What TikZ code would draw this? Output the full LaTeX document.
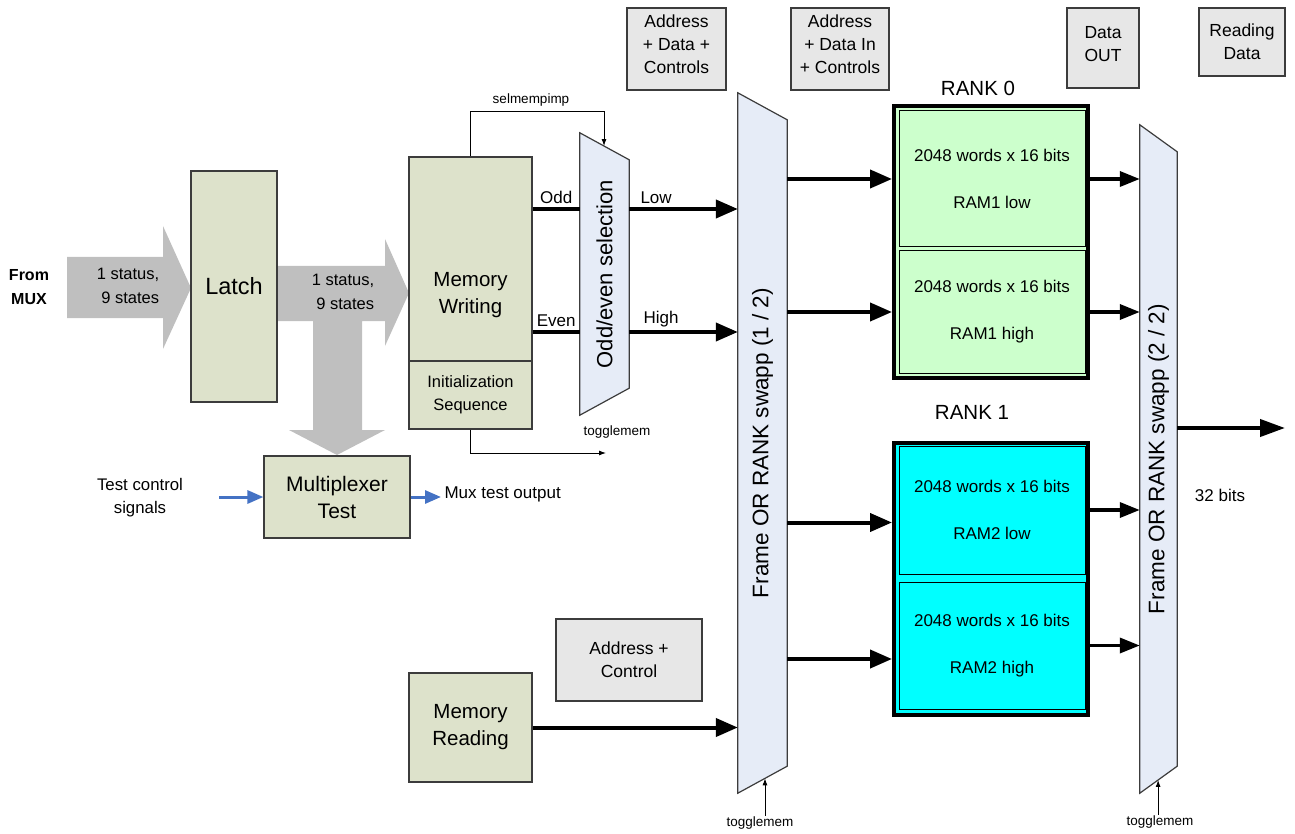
\documentclass[tikz,border=0pt]{standalone}
\usepackage{fontspec}
\setmainfont{Liberation Sans}
\usetikzlibrary{arrows.meta,calc}

\definecolor{blkfill}{RGB}{221,226,203}
\definecolor{trapfill}{RGB}{230,236,247}
\definecolor{sigfill}{RGB}{231,231,231}
\definecolor{bigarrow}{RGB}{191,191,191}
\definecolor{ramgreen}{RGB}{204,255,204}
\definecolor{ramcyan}{RGB}{0,255,255}
\definecolor{ctlblue}{RGB}{68,114,196}
\definecolor{edge}{RGB}{60,60,60}

\begin{document}
\begin{tikzpicture}[x=1pt, y=-1pt,
  blk/.style={draw=edge, line width=1.2pt, fill=blkfill, align=center},
  sig/.style={draw=edge, line width=1.2pt, fill=sigfill, align=center, font=\fontsize{17.5}{23}\selectfont},
  trap/.style={draw=edge, line width=1.2pt, fill=trapfill},
  ram/.style={draw=black, line width=1pt, align=center, font=\fontsize{17}{20}\selectfont},
  rank/.style={draw=black, line width=4pt},
  tiny/.style={font=\fontsize{13.5}{16}\selectfont, inner sep=1pt},
  txt/.style={font=\fontsize{17}{23}\selectfont, align=center},
  sigline/.style={line width=0.9pt, -{Latex[length=7pt,width=5pt]}},
  wire/.style={line width=4pt},
  bus/.style={line width=4pt, -{Triangle[length=22pt,width=18pt]}},
  rdout/.style={line width=3.5pt, -{Triangle[length=20pt,width=15pt]}},
  ctl/.style={line width=3pt, ctlblue, -{Triangle[length=16pt,width=13pt]}}
]
\useasboundingbox (0,0) rectangle (1295,834);

% big grey arrows
\fill[bigarrow] (67,257) -- (163,257) -- (163,226) -- (191,288) -- (163,349) -- (163,318) -- (67,318) -- cycle;
\fill[bigarrow] (277,266) -- (385,266) -- (385,239) -- (409,293) -- (385,346) -- (385,321) -- (362,321)
  -- (362,430) -- (385,430) -- (337,455) -- (289,430) -- (313,430) -- (313,321) -- (277,321) -- cycle;

% input side
\node[font=\bfseries\fontsize{16}{24}\selectfont, align=center] (frommux) at (29,287) {From\\MUX};
\node[txt, font=\fontsize{16.5}{24}\selectfont] (st1) at (128,286) {1 status,\\\ 9 states};
\node[blk, minimum width=86pt, minimum height=231pt, font=\fontsize{23.5}{28}\selectfont] (latch) at (234,286.5) {Latch};
\node[txt, font=\fontsize{16.5}{24}\selectfont] (st2) at (343,292) {1 status,\\\ 9 states};

\node[blk, minimum width=123pt, minimum height=204pt] (mw) at (470.5,259) {};
\node[font=\fontsize{20.5}{26.5}\selectfont, align=center] (mwtxt) at (470.5,295) {Memory\\Writing};
\node[blk, minimum width=123pt, minimum height=68pt, font=\fontsize{16.5}{23}\selectfont] (init) at (470.5,395) {Initialization\\Sequence};

\node[blk, minimum width=146pt, minimum height=82pt, font=\fontsize{21}{27}\selectfont] (mux) at (337,497) {Multiplexer\\Test};
\node[txt, font=\fontsize{16.8}{23}\selectfont] (tcs) at (140,498) {Test control\\signals};
\coordinate (tcsin) at (219,497);
\draw[ctl] (tcsin) -- (mux.west);
\node[anchor=west, font=\fontsize{17}{22}\selectfont] (mto) at (441,494) {Mux test output};
\draw[ctl] (mux.east) -- (mux.east -| mto.west);

\node[blk, minimum width=123pt, minimum height=109pt, font=\fontsize{20.5}{27}\selectfont] (mr) at (470.5,727.5) {Memory\\Reading};
\node[sig, minimum width=146pt, minimum height=82pt] (ac) at (629,660) {Address +\\Control};

% top labels
\node[sig, minimum width=99pt, minimum height=82pt] (adc) at (676.5,49) {};
\node[sig, minimum width=98pt, minimum height=82pt] (adi) at (840,49) {};
\node[sig, minimum width=72pt, minimum height=80pt] (dout) at (1103,48) {};
\node[sig, minimum width=86pt, minimum height=68pt] (rdat) at (1242,42) {Reading\\Data};
\node[txt, font=\fontsize{17.5}{23}\selectfont] (adctxt) at ($(adc)+(0,-5)$) {Address\\+ Data +\\Controls};
\node[txt, font=\fontsize{17.5}{23}\selectfont] (aditxt) at ($(adi)+(0,-5)$) {Address\\+ Data In\\+ Controls};
\node[txt, font=\fontsize{17.5}{23}\selectfont] (douttxt) at ($(dout)+(0,-4)$) {Data\\OUT};

% selectors
\node[minimum width=49pt, minimum height=282pt, inner sep=0] (oe) at (604.5,274) {};
\node[minimum width=49pt, minimum height=700pt, inner sep=0] (sw1) at (762.5,443) {};
\node[minimum width=37pt, minimum height=668pt, inner sep=0] (sw2) at (1158.5,459) {};
\foreach \n in {oe,sw1,sw2}{
  \coordinate (\n-ne) at ([yshift=-27pt]\n.north east);
  \coordinate (\n-se) at ([yshift=27pt]\n.south east);
  \filldraw[trap] (\n.north west) -- (\n-ne) -- (\n-se) -- (\n.south west) -- cycle;
}
\node[rotate=90, font=\fontsize{22}{26}\selectfont] (oetxt) at (oe) {Odd/even selection};
\node[rotate=90, font=\fontsize{22.5}{26}\selectfont] (sw1txt) at (sw1) {Frame OR RANK swapp (1 / 2)};
\node[rotate=90, font=\fontsize{22.5}{26}\selectfont] (sw2txt) at (sw2) {Frame OR RANK swapp (2 / 2)};

% memories
\node[rank, fill=ramgreen, minimum width=194pt, minimum height=272pt] (rank0) at (991,242) {};
\node[ram, fill=ramgreen, minimum width=186pt, minimum height=136pt] (ram1lo) at (992,179) {2048 words x 16 bits\\[27pt]RAM1 low};
\node[ram, fill=ramgreen, minimum width=186pt, minimum height=122pt] (ram1hi) at (992,312) {2048 words x 16 bits\\[27pt]RAM1 high};
\node[rank, fill=ramcyan, minimum width=194pt, minimum height=272pt] (rank1) at (991,579) {};
\node[ram, fill=ramcyan, minimum width=186pt, minimum height=128pt] (ram2lo) at (992,510) {2048 words x 16 bits\\[27pt]RAM2 low};
\node[ram, fill=ramcyan, minimum width=186pt, minimum height=127pt] (ram2hi) at (992,645.5) {2048 words x 16 bits\\[27pt]RAM2 high};
\node[font=\fontsize{20.5}{24}\selectfont] (r0lbl) at (978,88) {RANK 0};
\node[font=\fontsize{20.5}{24}\selectfont] (r1lbl) at (972,412) {RANK 1};

% data paths
\coordinate (odd) at ($(mw.east)+(0,-50)$);
\coordinate (even) at ($(mw.east)+(0,73)$);
\draw[wire] (odd) -- (odd -| oe.west) node[midway, above, txt] {Odd};
\draw[wire] (even) -- (even -| oe.west) node[midway, above, txt] {Even};
\draw[bus] (odd -| oe.east) -- (odd -| sw1.west) node[pos=0, above right, xshift=6pt, txt] {Low};
\draw[bus] (even -| oe.east) -- (even -| sw1.west) node[pos=0, above right, xshift=9pt, txt] {High};
\draw[bus] (mr.east) -- (mr.east -| sw1.west);

\coordinate (in2lo) at ($(ram2lo.west)+(0,12.5)$);
\coordinate (in2hi) at ($(ram2hi.west)+(0,13.5)$);
\draw[bus] (sw1.east |- ram1lo) -- (rank0.west |- ram1lo);
\draw[bus] (sw1.east |- ram1hi) -- (rank0.west |- ram1hi);
\draw[bus] (sw1.east |- in2lo) -- (rank1.west |- in2lo);
\draw[bus] (sw1.east |- in2hi) -- (rank1.west |- in2hi);
\foreach \k/\r in {rank0/ram1lo, rank0/ram1hi, rank1/ram2lo, rank1/ram2hi}
  \draw[rdout] (\k.east |- \r) -- (\r.east -| sw2.west);

\coordinate (out32) at (1285,428);
\draw[bus, -{Triangle[length=25pt,width=17pt]}] (sw2.east |- out32) -- (out32);
\node[txt] (b32) at (1220,495) {32 bits};

% control signals
\node[tiny] (lsel) at (531,100) {selmempimp};
\coordinate (sel) at ($(oe.north west)!0.49!(oe-ne)$);
\draw[sigline] (mw.north) -- ++(0,-45) -| (sel);

\node[tiny] (ltg0) at (617,432) {togglemem};
\coordinate (tg0) at (606,453);
\draw[sigline] (init.south) |- (tg0);

\coordinate (tg1) at ($(sw1.south west)!0.55!(sw1-se)$);
\node[tiny] (ltg1) at (760,823) {togglemem};
\draw[sigline] (ltg1.north -| tg1) -- (tg1);
\coordinate (tg2) at ($(sw2.south west)!0.49!(sw2-se)$);
\node[tiny] (ltg2) at (1160,822) {togglemem};
\draw[sigline] (ltg2.north -| tg2) -- (tg2);
\end{tikzpicture}
\end{document}
